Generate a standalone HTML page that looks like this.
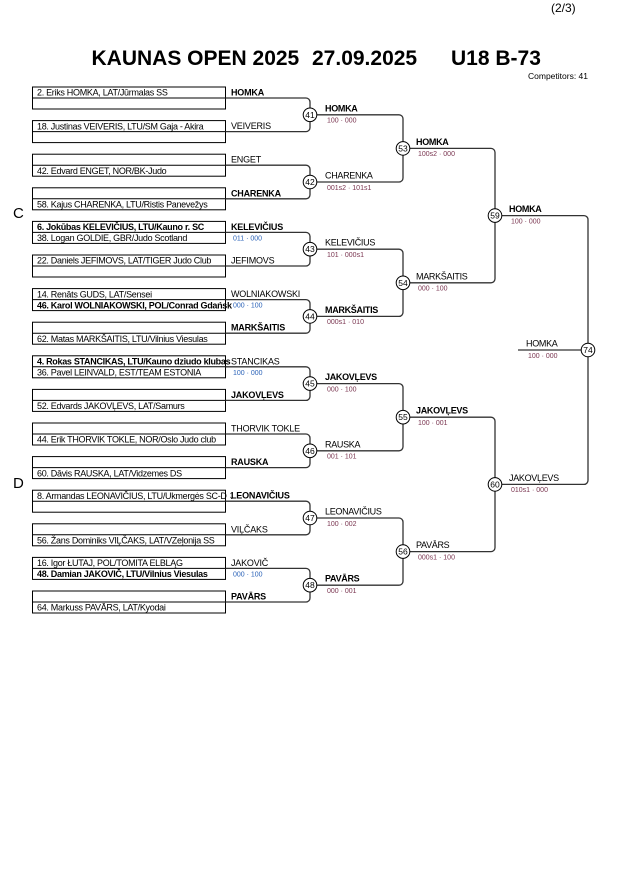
<!DOCTYPE html>
<html><head><meta charset="utf-8"><style>
html,body{margin:0;padding:0;background:#fff;}
svg{display:block;font-family:"Liberation Sans",Arial,sans-serif;}
.bx{font-size:9px;letter-spacing:-0.3px;fill:#000;}
.b{font-weight:bold;}
.lb{font-size:9px;letter-spacing:-0.2px;fill:#000;}
.rl{font-size:9px;letter-spacing:-0.3px;fill:#000;}
.sc{font-size:7px;fill:#7a3550;}
.bs{font-size:7px;fill:#2a62b8;}
.cn{font-size:8.5px;text-anchor:middle;fill:#000;}
</style></head><body>
<svg width="630" height="891" viewBox="0 0 630 891" xmlns="http://www.w3.org/2000/svg">
<rect width="630" height="891" fill="#fff"/>
<text x="551" y="12" font-size="12">(2/3)</text>
<g font-size="21" font-weight="bold">
<text x="91.5" y="65">KAUNAS OPEN 2025</text>
<text x="312" y="65">27.09.2025</text>
<text x="451" y="65">U18 B-73</text>
</g>
<text x="528" y="79" font-size="8.5">Competitors: 41</text>
<text x="13" y="218" font-size="15">C</text>
<text x="13" y="488" font-size="15">D</text>

<!-- boxes -->
<g fill="none" stroke="#000" stroke-width="1">
<rect x="32.5" y="87" width="193" height="22"/><line x1="32.5" y1="98" x2="225.5" y2="98"/>
<rect x="32.5" y="120.6" width="193" height="22"/><line x1="32.5" y1="131.6" x2="225.5" y2="131.6"/>
<rect x="32.5" y="154.2" width="193" height="22"/><line x1="32.5" y1="165.2" x2="225.5" y2="165.2"/>
<rect x="32.5" y="187.8" width="193" height="22"/><line x1="32.5" y1="198.8" x2="225.5" y2="198.8"/>
<rect x="32.5" y="221.4" width="193" height="22"/><line x1="32.5" y1="232.4" x2="225.5" y2="232.4"/>
<rect x="32.5" y="255" width="193" height="22"/><line x1="32.5" y1="266" x2="225.5" y2="266"/>
<rect x="32.5" y="288.6" width="193" height="22"/><line x1="32.5" y1="299.6" x2="225.5" y2="299.6"/>
<rect x="32.5" y="322.2" width="193" height="22"/><line x1="32.5" y1="333.2" x2="225.5" y2="333.2"/>
<rect x="32.5" y="355.8" width="193" height="22"/><line x1="32.5" y1="366.8" x2="225.5" y2="366.8"/>
<rect x="32.5" y="389.4" width="193" height="22"/><line x1="32.5" y1="400.4" x2="225.5" y2="400.4"/>
<rect x="32.5" y="423" width="193" height="22"/><line x1="32.5" y1="434" x2="225.5" y2="434"/>
<rect x="32.5" y="456.6" width="193" height="22"/><line x1="32.5" y1="467.6" x2="225.5" y2="467.6"/>
<rect x="32.5" y="490.2" width="193" height="22"/><line x1="32.5" y1="501.2" x2="225.5" y2="501.2"/>
<rect x="32.5" y="523.8" width="193" height="22"/><line x1="32.5" y1="534.8" x2="225.5" y2="534.8"/>
<rect x="32.5" y="557.4" width="193" height="22"/><line x1="32.5" y1="568.4" x2="225.5" y2="568.4"/>
<rect x="32.5" y="591" width="193" height="22"/><line x1="32.5" y1="602" x2="225.5" y2="602"/>
</g>

<!-- box texts -->
<text class="bx" x="37" y="95.7">2. Eriks HOMKA, LAT/Jūrmalas SS</text>
<text class="bx" x="37" y="129.3">18. Justinas VEIVERIS, LTU/SM Gaja - Akira</text>
<text class="bx" x="37" y="173.9">42. Edvard ENGET, NOR/BK-Judo</text>
<text class="bx" x="37" y="207.5">58. Kajus CHARENKA, LTU/Ristis Panevežys</text>
<text class="bx b" x="37" y="230.1">6. Jokūbas KELEVIČIUS, LTU/Kauno r. SC</text>
<text class="bx" x="37" y="241.1">38. Logan GOLDIE, GBR/Judo Scotland</text>
<text class="bx" x="37" y="263.7">22. Daniels JEFIMOVS, LAT/TIGER Judo Club</text>
<text class="bx" x="37" y="297.3">14. Renāts GUDS, LAT/Sensei</text>
<text class="bx b" x="37" y="308.3">46. Karol WOLNIAKOWSKI, POL/Conrad Gdańsk</text>
<text class="bx" x="37" y="341.9">62. Matas MARKŠAITIS, LTU/Vilnius Viesulas</text>
<text class="bx b" x="37" y="364.5">4. Rokas STANCIKAS, LTU/Kauno dziudo klubas</text>
<text class="bx" x="37" y="375.5">36. Pavel LEINVALD, EST/TEAM ESTONIA</text>
<text class="bx" x="37" y="409.1">52. Edvards JAKOVĻEVS, LAT/Samurs</text>
<text class="bx" x="37" y="442.7">44. Erik THORVIK TOKLE, NOR/Oslo Judo club</text>
<text class="bx" x="37" y="476.3">60. Dāvis RAUSKA, LAT/Vidzemes DS</text>
<text class="bx" x="37" y="498.9">8. Armandas LEONAVIČIUS, LTU/Ukmergės SC-DK</text>
<text class="bx" x="37" y="543.5">56. Žans Dominiks VIĻČAKS, LAT/VZeļonija SS</text>
<text class="bx" x="37" y="566.1">16. Igor ŁUTAJ, POL/TOMITA ELBLĄG</text>
<text class="bx b" x="37" y="577.1">48. Damian JAKOVIČ, LTU/Vilnius Viesulas</text>
<text class="bx" x="37" y="610.7">64. Markuss PAVĀRS, LAT/Kyodai</text>

<!-- left labels -->
<rect x="226.5" y="492" width="4" height="8" fill="#fff"/>
<text class="lb b" x="231" y="95.5">HOMKA</text>
<text class="lb" x="231" y="129.1">VEIVERIS</text>
<text class="lb" x="231" y="162.7">ENGET</text>
<text class="lb b" x="231" y="196.3">CHARENKA</text>
<text class="lb b" x="231" y="229.9">KELEVIČIUS</text>
<text class="lb" x="231" y="263.5">JEFIMOVS</text>
<text class="lb" x="231" y="297.1">WOLNIAKOWSKI</text>
<text class="lb b" x="231" y="330.7">MARKŠAITIS</text>
<text class="lb" x="231" y="364.3">STANCIKAS</text>
<text class="lb b" x="231" y="397.9">JAKOVĻEVS</text>
<text class="lb" x="231" y="431.5">THORVIK TOKLE</text>
<text class="lb b" x="231" y="465.1">RAUSKA</text>
<text class="lb b" x="231" y="498.7">LEONAVIČIUS</text>
<text class="lb" x="231" y="532.3">VIĻČAKS</text>
<text class="lb" x="231" y="565.9">JAKOVIČ</text>
<text class="lb b" x="231" y="599.5">PAVĀRS</text>

<text class="bs" x="233" y="240.5">011 · 000</text>
<text class="bs" x="233" y="307.7">000 · 100</text>
<text class="bs" x="233" y="374.9">100 · 000</text>
<text class="bs" x="233" y="576.5">000 · 100</text>

<!-- connectors -->
<g fill="none" stroke="#333" stroke-width="1.3">
<path d="M225.5 98 H306 A4 4 0 0 1 310 102 V127.6 A4 4 0 0 1 306 131.6 H225.5"/>
<path d="M225.5 165.2 H306 A4 4 0 0 1 310 169.2 V194.8 A4 4 0 0 1 306 198.8 H225.5"/>
<path d="M225.5 232.4 H306 A4 4 0 0 1 310 236.4 V262 A4 4 0 0 1 306 266 H225.5"/>
<path d="M225.5 299.6 H306 A4 4 0 0 1 310 303.6 V329.2 A4 4 0 0 1 306 333.2 H225.5"/>
<path d="M225.5 366.8 H306 A4 4 0 0 1 310 370.8 V396.4 A4 4 0 0 1 306 400.4 H225.5"/>
<path d="M225.5 434 H306 A4 4 0 0 1 310 438 V463.6 A4 4 0 0 1 306 467.6 H225.5"/>
<path d="M225.5 501.2 H306 A4 4 0 0 1 310 505.2 V530.8 A4 4 0 0 1 306 534.8 H225.5"/>
<path d="M225.5 568.4 H306 A4 4 0 0 1 310 572.4 V598 A4 4 0 0 1 306 602 H225.5"/>

<path d="M310 114.8 H399 A4 4 0 0 1 403 118.8 V178 A4 4 0 0 1 399 182 H310"/>
<path d="M310 249.2 H399 A4 4 0 0 1 403 253.2 V312.4 A4 4 0 0 1 399 316.4 H310"/>
<path d="M310 383.6 H399 A4 4 0 0 1 403 387.6 V446.8 A4 4 0 0 1 399 450.8 H310"/>
<path d="M310 518 H399 A4 4 0 0 1 403 522 V581.2 A4 4 0 0 1 399 585.2 H310"/>

<path d="M403 148.4 H491 A4 4 0 0 1 495 152.4 V278.8 A4 4 0 0 1 491 282.8 H403"/>
<path d="M403 417.2 H491 A4 4 0 0 1 495 421.2 V547.6 A4 4 0 0 1 491 551.6 H403"/>

<path d="M495 215.6 H584 A4 4 0 0 1 588 219.6 V480.4 A4 4 0 0 1 584 484.4 H495"/>
<path d="M518 350 H588"/>
</g>

<!-- circles -->
<g fill="#fff" stroke="#000" stroke-width="1">
<circle cx="310" cy="114.8" r="6.8"/><circle cx="310" cy="182" r="6.8"/>
<circle cx="310" cy="249.2" r="6.8"/><circle cx="310" cy="316.4" r="6.8"/>
<circle cx="310" cy="383.6" r="6.8"/><circle cx="310" cy="450.8" r="6.8"/>
<circle cx="310" cy="518" r="6.8"/><circle cx="310" cy="585.2" r="6.8"/>
<circle cx="403" cy="148.4" r="6.8"/><circle cx="403" cy="282.8" r="6.8"/>
<circle cx="403" cy="417.2" r="6.8"/><circle cx="403" cy="551.6" r="6.8"/>
<circle cx="495" cy="215.6" r="6.8"/><circle cx="495" cy="484.4" r="6.8"/>
<circle cx="588" cy="350" r="6.8"/>
</g>
<text class="cn" x="310" y="117.8">41</text>
<text class="cn" x="310" y="185">42</text>
<text class="cn" x="310" y="252.2">43</text>
<text class="cn" x="310" y="319.4">44</text>
<text class="cn" x="310" y="386.6">45</text>
<text class="cn" x="310" y="453.8">46</text>
<text class="cn" x="310" y="521">47</text>
<text class="cn" x="310" y="588.2">48</text>
<text class="cn" x="403" y="151.4">53</text>
<text class="cn" x="403" y="285.8">54</text>
<text class="cn" x="403" y="420.2">55</text>
<text class="cn" x="403" y="554.6">56</text>
<text class="cn" x="495" y="218.6">59</text>
<text class="cn" x="495" y="487.4">60</text>
<text class="cn" x="588" y="353">74</text>

<!-- round labels -->
<text class="rl b" x="325" y="111.3">HOMKA</text><text class="sc" x="327" y="122.6">100 · 000</text>
<text class="rl" x="325" y="178.5">CHARENKA</text><text class="sc" x="327" y="189.8">001s2 · 101s1</text>
<text class="rl" x="325" y="245.7">KELEVIČIUS</text><text class="sc" x="327" y="257">101 · 000s1</text>
<text class="rl b" x="325" y="312.9">MARKŠAITIS</text><text class="sc" x="327" y="324.2">000s1 · 010</text>
<text class="rl b" x="325" y="380.1">JAKOVĻEVS</text><text class="sc" x="327" y="391.4">000 · 100</text>
<text class="rl" x="325" y="447.3">RAUSKA</text><text class="sc" x="327" y="458.6">001 · 101</text>
<text class="rl" x="325" y="514.5">LEONAVIČIUS</text><text class="sc" x="327" y="525.8">100 · 002</text>
<text class="rl b" x="325" y="581.7">PAVĀRS</text><text class="sc" x="327" y="593">000 · 001</text>

<text class="rl b" x="416" y="144.9">HOMKA</text><text class="sc" x="418" y="156.2">100s2 · 000</text>
<text class="rl" x="416" y="279.3">MARKŠAITIS</text><text class="sc" x="418" y="290.6">000 · 100</text>
<text class="rl b" x="416" y="413.7">JAKOVĻEVS</text><text class="sc" x="418" y="425">100 · 001</text>
<text class="rl" x="416" y="548.1">PAVĀRS</text><text class="sc" x="418" y="559.4">000s1 · 100</text>

<text class="rl b" x="509" y="212.1">HOMKA</text><text class="sc" x="511" y="223.4">100 · 000</text>
<text class="rl" x="509" y="480.9">JAKOVĻEVS</text><text class="sc" x="511" y="492.2">010s1 · 000</text>

<text class="rl" x="526" y="346.5">HOMKA</text><text class="sc" x="528" y="357.8">100 · 000</text>
</svg>
</body></html>
